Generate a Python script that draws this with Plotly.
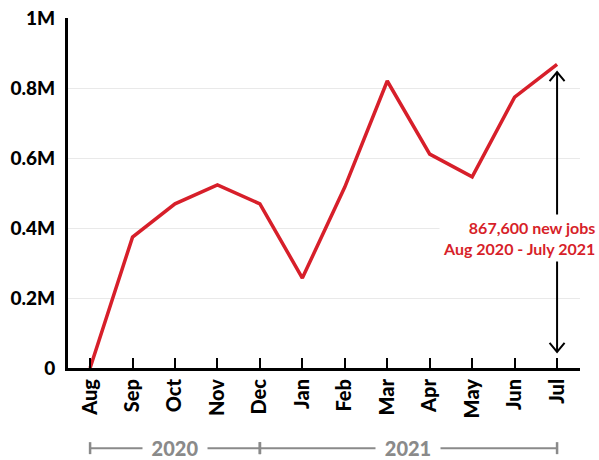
import plotly.graph_objects as go

months = ["Aug", "Sep", "Oct", "Nov", "Dec", "Jan", "Feb", "Mar", "Apr", "May", "Jun", "Jul"]
jobs = [0, 374000, 469000, 523000, 469000, 257000, 517000, 820000, 611000, 546000, 774000, 867600]
ytick_vals = [0, 200000, 400000, 600000, 800000, 1000000]
ytick_text = ["0", "0.2M", "0.4M", "0.6M", "0.8M", "1M"]
years = ["2020", "2021"]
year_spans = [(0, 4), (4, 11)]
note = "867,600 new jobs<br>Aug 2020 - July 2021"

RED = "#d71f2a"
GRAY = "#8a8a8a"
FONT = "Lato"

fig = go.Figure()
fig.add_trace(go.Scatter(
    x=list(range(len(months))), y=jobs, mode="lines",
    line=dict(color=RED, width=3.5), hoverinfo="skip", showlegend=False,
))

shapes = []
annotations = []
yb = -0.229
for (a, b), yr in zip(year_spans, years):
    shapes.append(dict(type="line", xref="x", yref="paper", x0=a, x1=b, y0=yb, y1=yb,
                       line=dict(color=GRAY, width=2)))
    for xe in (a, b):
        shapes.append(dict(type="line", xref="x", yref="paper", ysizemode="pixel", yanchor=yb,
                           x0=xe, x1=xe, y0=-6, y1=6, line=dict(color=GRAY, width=2.5)))
    annotations.append(dict(text=yr, xref="x", yref="paper", x=(a + b) / 2, y=yb,
                            xanchor="center", yanchor="middle", width=64, align="center",
                            showarrow=False, bgcolor="white", borderpad=0,
                            font=dict(family=FONT, size=20, color=GRAY, weight=900)))

last = len(months) - 1
arrow_top = jobs[-1] - 22000
arrow_bottom = 46000
# double-headed arrow: stem + two chevrons
shapes.append(dict(type="line", xref="x", yref="y", x0=last, x1=last, y0=arrow_bottom, y1=arrow_top,
                   line=dict(color="black", width=2)))
shapes.append(dict(type="path", xref="x", yref="y", xsizemode="pixel", ysizemode="pixel",
                   xanchor=last, yanchor=arrow_top, path="M-7.5,-9 L0,0 L7.5,-9",
                   line=dict(color="black", width=2)))
shapes.append(dict(type="path", xref="x", yref="y", xsizemode="pixel", ysizemode="pixel",
                   xanchor=last, yanchor=arrow_bottom, path="M-7.5,9 L0,0 L7.5,9",
                   line=dict(color="black", width=2)))
annotations.append(dict(text=note, xref="paper", yref="y", x=1.037, y=371000,
                        xanchor="right", yanchor="middle", align="right", showarrow=False,
                        bgcolor="white", borderpad=3,
                        font=dict(family=FONT, size=16, color=RED, weight="bold")))

fig.update_layout(
    width=599, height=460,
    margin=dict(l=68, r=19, t=18, b=92, autoexpand=False),
    paper_bgcolor="white", plot_bgcolor="white",
    shapes=shapes, annotations=annotations,
    xaxis=dict(range=[-0.52, 11.54], tickvals=list(range(len(months))), ticktext=months,
               tickangle=-90, ticks="inside", ticklen=10, tickwidth=2, tickcolor="black",
               showline=True, linecolor="black", linewidth=3, showgrid=False, zeroline=False,
               automargin=False,
               tickfont=dict(family=FONT, size=20, color="black", weight=900)),
    yaxis=dict(range=[0, 1000000], tickvals=ytick_vals, ticktext=ytick_text,
               showline=True, linecolor="black", linewidth=3, showgrid=True,
               gridcolor="#e9e9e9", gridwidth=1, zeroline=False, ticks="",
               ticklabelstandoff=6, automargin=False,
               tickfont=dict(family=FONT, size=19, color="black", weight=900)),
)
fig.write_html("out.html", config={"displayModeBar": False},
               post_script="document.body.style.margin='0';document.body.style.overflow='hidden';")
